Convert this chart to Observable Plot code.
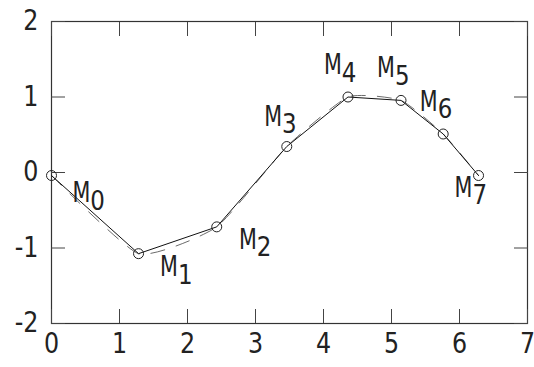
<!DOCTYPE html>
<html>
<head>
<meta charset="utf-8">
<script src="https://cdn.jsdelivr.net/npm/d3@7"></script>
<script src="https://cdn.jsdelivr.net/npm/@observablehq/plot@0.6"></script>
<style>
  html, body { margin: 0; padding: 0; background: #fff; }
</style>
</head>
<body>
<div id="chart"></div>
<script>
// Data points M0..M7
const names = ["M", "M", "M", "M", "M", "M", "M", "M"];
const subs = ["0", "1", "2", "3", "4", "5", "6", "7"];
const xs = [0, 1.28, 2.43, 3.46, 4.36, 5.14, 5.76, 6.28];
const ys = [-0.04, -1.075, -0.72, 0.344, 1.0, 0.955, 0.51, -0.04];
// Label anchor positions (data coords)
const labelX = [0.57, 1.86, 3.02, 3.39, 4.27, 5.05, 5.68, 6.19];
const labelY = [-0.27, -1.25, -0.89, 0.74, 1.42, 1.38, 0.94, -0.20];
// Ticks
const xTicks = [0, 1, 2, 3, 4, 5, 6, 7];
const yTicks = [-2, -1, 0, 1, 2];

const pts = xs.map((x, i) => ({x, y: ys[i]}));
const labels = labelX.map((x, i) => ({x, y: labelY[i], name: names[i], sub: subs[i]}));

const font = "'DejaVu Sans', sans-serif";

const chart = Plot.plot({
  width: 534,
  height: 367,
  marginLeft: 51,
  marginRight: 7,
  marginTop: 21,
  marginBottom: 44,
  x: {domain: [0, 7]},
  y: {domain: [-2, 2]},
  style: {fontFamily: font, fontSize: "28px", color: "#222", background: "#fff"},
  marks: [
    Plot.frame({stroke: "#333", strokeWidth: 1.2}),
    Plot.axisX(xTicks, {anchor: "bottom", tickSize: -14, tickPadding: 24, label: null, tickFormat: d => String(d), fontSize: 28, stroke: "#444"}),
    Plot.axisX(xTicks, {anchor: "top", tickSize: -14, label: null, tickFormat: () => "", stroke: "#444"}),
    Plot.axisY(yTicks, {anchor: "left", tickSize: -14, tickPadding: 27, label: null, tickFormat: d => String(d), fontSize: 28, stroke: "#444"}),
    Plot.axisY(yTicks, {anchor: "right", tickSize: -14, label: null, tickFormat: () => "", stroke: "#444"}),
    Plot.line(pts, {x: "x", y: "y", curve: "cardinal", tension: 0.5, stroke: "#444", strokeWidth: 0.8, strokeDasharray: "14,12"}),
    Plot.line(pts, {x: "x", y: "y", stroke: "#111", strokeWidth: 1}),
    Plot.dot(pts, {x: "x", y: "y", r: 5, stroke: "#222", strokeWidth: 1, fill: "none"}),
    Plot.text(labels, {x: "x", y: "y", text: "name", textAnchor: "end", lineAnchor: "middle", fontSize: 28, fill: "#222"}),
    Plot.text(labels, {x: "x", y: "y", text: "sub", textAnchor: "start", lineAnchor: "middle", dy: 8, fontSize: 27, fill: "#222"})
  ]
});
// Narrow the glyphs to mimic the condensed face of the reference
d3.select(chart).selectAll("text").each(function () {
  const s = this.textContent === "M" ? 0.74 : 0.85;
  const t = this.getAttribute("transform") || "";
  this.setAttribute("transform", `${t} scale(${s},1)`);
});
document.getElementById("chart").appendChild(chart);
</script>
</body>
</html>
